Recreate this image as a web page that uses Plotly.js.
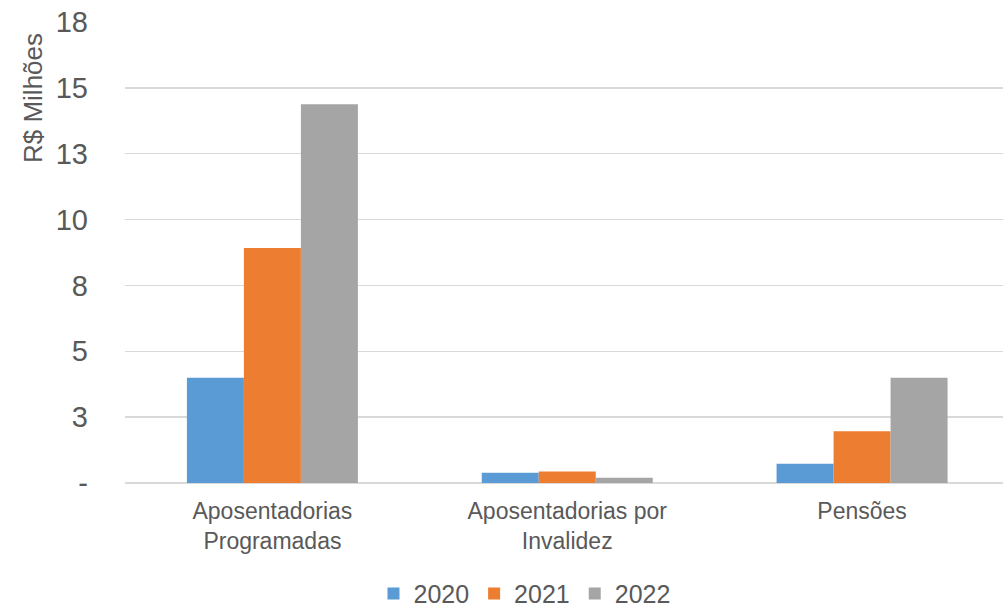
<!DOCTYPE html>
<html><head><meta charset="utf-8">
<script src="https://cdn.plot.ly/plotly-3.0.1.min.js"></script>
<style>html,body{margin:0;padding:0;overflow:hidden;background:#fff}</style>
</head><body>
<div id="chart" style="width:1003px;height:610px"></div>
<script>
const categories = ["Aposentadorias<br>Programadas", "Aposentadorias por<br>Invalidez", "Pensões"];
const years = ["2020", "2021", "2022"];
const v2020 = [4.0, 0.39, 0.73];
const v2021 = [8.92, 0.44, 1.96];
const v2022 = [14.38, 0.2, 4.0];
const colors = ["#5B9BD5", "#ED7D31", "#A5A5A5"];
const tickVals = [0, 2.5, 5, 7.5, 10, 12.5, 15, 17.5];
const tickText = ["-", "3", "5", "8", "10", "13", "15", "18"];

const series = [v2020, v2021, v2022];
const data = series.map((vals, i) => ({
  type: "bar", name: years[i], x: categories, y: vals,
  marker: {color: colors[i]}
}));
const font = {family: "Liberation Sans, Arial, sans-serif", color: "#595959"};
const layout = {
  width: 1003, height: 610,
  margin: {l: 125, r: 0, t: 22, b: 127, autoexpand: false},
  paper_bgcolor: "#fff", plot_bgcolor: "#fff",
  font: font,
  barmode: "group", bargap: 0.42, bargroupgap: 0,
  xaxis: {range: [-0.5, 2.478], automargin: false, tickfont: {size: 23, color: "#595959"},
    showgrid: false, ticks: "", showline: false, ticklabelstandoff: 12},
  yaxis: {range: [0, 17.5], automargin: false, tickvals: tickVals, ticktext: tickText,
    tickfont: {size: 29, color: "#595959"}, gridcolor: "#D9D9D9", gridwidth: 1.3,
    zeroline: true, zerolinecolor: "#D9D9D9", zerolinewidth: 1.3,
    ticks: "", ticklabelstandoff: 36, showline: false},
  showlegend: true,
  legend: {orientation: "h", x: 0.455, xanchor: "center", y: -0.24, yanchor: "middle",
    font: {size: 25, color: "#595959"}, itemwidth: 30, tracegroupgap: 0},
  annotations: [{text: "R$ Milhões", xref: "paper", yref: "paper", x: -0.105, y: 0.98,
    xanchor: "center", yanchor: "top", textangle: -90, showarrow: false,
    font: {size: 26, color: "#595959"}}]
};
Plotly.newPlot("chart", data, layout, {staticPlot: true});
</script>
</body></html>
